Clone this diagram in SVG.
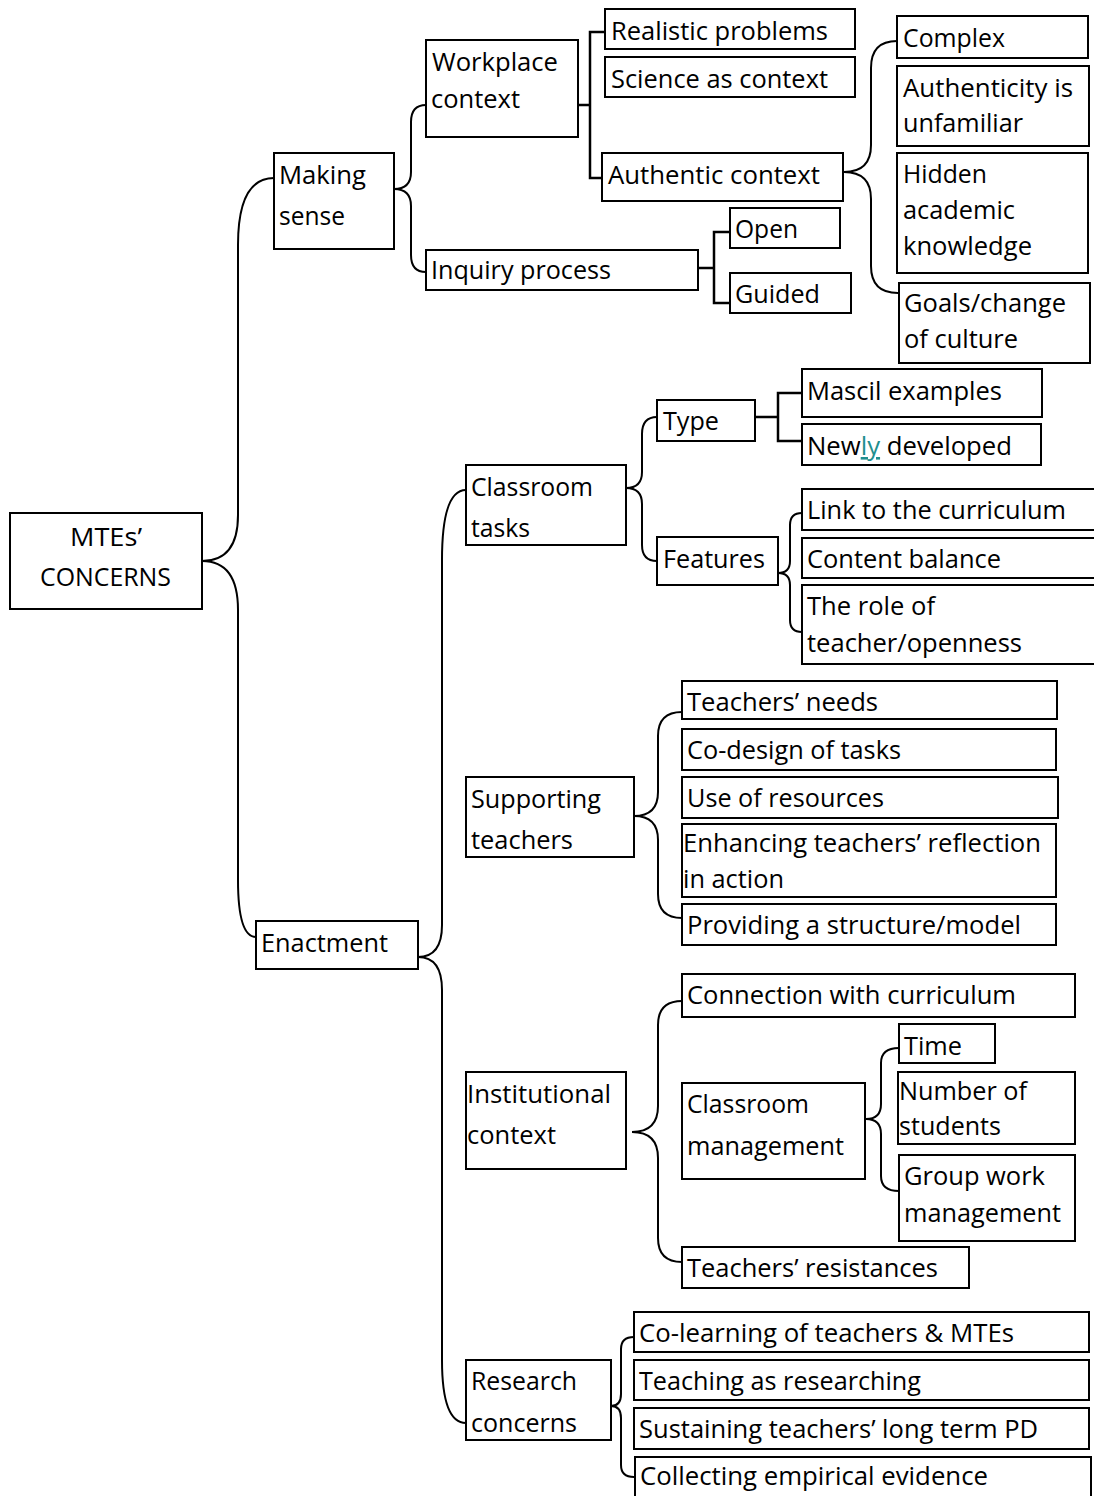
<svg xmlns="http://www.w3.org/2000/svg" width="1094" height="1496" viewBox="0 0 1094 1496">
<style>
  rect { fill: #fff; stroke: #000; stroke-width: 2; }
  text { font-family: "Open Sans", "Noto Sans", "Liberation Sans", sans-serif; font-size: 26px; fill: #000; }
  .c { fill: none; stroke: #000; stroke-width: 2; }
  .sq { fill: none; stroke: #000; stroke-width: 2.5; }
  .lnk { fill: #1f8f8f; text-decoration: underline; }
</style>
<rect x="0" y="0" width="1094" height="1496" style="fill:#fff;stroke:none"/>
<g id="connectors">
  <path class="c" d="M202,561 Q238,561 238,515 L238,245 Q238,178 274,178"/>
  <path class="c" d="M202,561 Q238,561 238,610 L238,880 Q238,937 256,937"/>
  <path class="c" d="M394,189 Q411,189 411,172 L411,122 Q411,105 426,105"/>
  <path class="c" d="M394,189 Q411,189 411,206 L411,255 Q411,272 426,272"/>
  <path class="sq" d="M578,105 H590 M605,32 H590 V178 H602"/>
  <path class="c" d="M844,172 Q871,172 871,145 L871,68 Q871,41 897,41"/>
  <path class="c" d="M844,172 Q871,172 871,199 L871,266 Q871,293 898,293"/>
  <path class="sq" d="M698,268 H714 M730,232 H714 V303 H730"/>
  <path class="c" d="M418,957 Q442,957 442,925 L442,560 Q442,490 466,490"/>
  <path class="c" d="M418,957 Q442,957 442,990 L442,1360 Q442,1423 466,1423"/>
  <path class="c" d="M626,488 Q642,488 642,472 L642,434 Q642,417 657,417"/>
  <path class="c" d="M626,488 Q642,488 642,504 L642,545 Q642,561 657,561"/>
  <path class="sq" d="M755,417 H778 M802,393 H778 V441 H802"/>
  <path class="c" d="M778,573 Q790,573 790,561 L790,525 Q790,513 802,513"/>
  <path class="c" d="M778,573 Q790,573 790,585 L790,620 Q790,632 802,632"/>
  <path class="c" d="M634,816 Q658,816 658,792 L658,736 Q658,712 682,712"/>
  <path class="c" d="M634,816 Q658,816 658,840 L658,894 Q658,918 682,918"/>
  <path class="c" d="M632,1132 Q658,1132 658,1106 L658,1025 Q658,1001 682,1001"/>
  <path class="c" d="M632,1132 Q658,1132 658,1158 L658,1238 Q658,1262 682,1262"/>
  <path class="c" d="M866,1119 Q881,1119 881,1104 L881,1063 Q881,1048 899,1048"/>
  <path class="c" d="M866,1119 Q881,1119 881,1134 L881,1176 Q881,1191 899,1191"/>
  <path class="c" d="M611,1406 Q621,1406 621,1394 L621,1349 Q621,1337 634,1337"/>
  <path class="c" d="M611,1406 Q621,1406 621,1418 L621,1465 Q621,1477 634,1477"/>
</g>
<g id="n-root"><rect x="10" y="513" width="192" height="96"/>
  <text x="70" y="546" textLength="72" lengthAdjust="spacingAndGlyphs">MTEs’</text>
  <text x="40" y="586" textLength="131" lengthAdjust="spacingAndGlyphs">CONCERNS</text></g>
<g id="n-making"><rect x="274" y="153" width="120" height="96"/>
  <text x="279" y="184" textLength="87" lengthAdjust="spacingAndGlyphs">Making</text>
  <text x="279" y="225" textLength="66" lengthAdjust="spacingAndGlyphs">sense</text></g>
<g id="n-workplace"><rect x="426" y="40" width="152" height="97"/>
  <text x="432" y="71" textLength="126" lengthAdjust="spacingAndGlyphs">Workplace</text>
  <text x="431" y="108" textLength="89" lengthAdjust="spacingAndGlyphs">context</text></g>
<g id="n-realistic"><rect x="605" y="9" width="250" height="40"/>
  <text x="611" y="40" textLength="217" lengthAdjust="spacingAndGlyphs">Realistic problems</text></g>
<g id="n-science"><rect x="605" y="57" width="250" height="40"/>
  <text x="611" y="88" textLength="217" lengthAdjust="spacingAndGlyphs">Science as context</text></g>
<g id="n-authentic"><rect x="602" y="153" width="241" height="48"/>
  <text x="608" y="184" textLength="212" lengthAdjust="spacingAndGlyphs">Authentic context</text></g>
<g id="n-complex"><rect x="897" y="16" width="191" height="42"/>
  <text x="903" y="47" textLength="102" lengthAdjust="spacingAndGlyphs">Complex</text></g>
<g id="n-authenticity"><rect x="897" y="66" width="192" height="80"/>
  <text x="903" y="97" textLength="170" lengthAdjust="spacingAndGlyphs">Authenticity is</text>
  <text x="903" y="132" textLength="120" lengthAdjust="spacingAndGlyphs">unfamiliar</text></g>
<g id="n-hidden"><rect x="897" y="153" width="191" height="120"/>
  <text x="903" y="183" textLength="84" lengthAdjust="spacingAndGlyphs">Hidden</text>
  <text x="903" y="219" textLength="112" lengthAdjust="spacingAndGlyphs">academic</text>
  <text x="903" y="255" textLength="129" lengthAdjust="spacingAndGlyphs">knowledge</text></g>
<g id="n-goals"><rect x="899" y="283" width="191" height="80"/>
  <text x="904" y="312" textLength="162" lengthAdjust="spacingAndGlyphs">Goals/change</text>
  <text x="904" y="348" textLength="114" lengthAdjust="spacingAndGlyphs">of culture</text></g>
<g id="n-inquiry"><rect x="426" y="250" width="272" height="40"/>
  <text x="431" y="279" textLength="180" lengthAdjust="spacingAndGlyphs">Inquiry process</text></g>
<g id="n-open"><rect x="730" y="208" width="110" height="40"/>
  <text x="735" y="238" textLength="63" lengthAdjust="spacingAndGlyphs">Open</text></g>
<g id="n-guided"><rect x="730" y="273" width="121" height="40"/>
  <text x="735" y="303" textLength="85" lengthAdjust="spacingAndGlyphs">Guided</text></g>
<g id="n-enactment"><rect x="256" y="921" width="162" height="48"/>
  <text x="261" y="952" textLength="127" lengthAdjust="spacingAndGlyphs">Enactment</text></g>
<g id="n-classroomtasks"><rect x="466" y="465" width="160" height="80"/>
  <text x="471" y="496" textLength="122" lengthAdjust="spacingAndGlyphs">Classroom</text>
  <text x="471" y="537" textLength="59" lengthAdjust="spacingAndGlyphs">tasks</text></g>
<g id="n-type"><rect x="657" y="400" width="98" height="41"/>
  <text x="663" y="430" textLength="56" lengthAdjust="spacingAndGlyphs">Type</text></g>
<g id="n-mascil"><rect x="802" y="369" width="240" height="48"/>
  <text x="807" y="400" textLength="195" lengthAdjust="spacingAndGlyphs">Mascil examples</text></g>
<g id="n-newly"><rect x="802" y="424" width="239" height="41"/>
  <text x="807" y="455" textLength="205" lengthAdjust="spacingAndGlyphs">New<tspan class="lnk">ly</tspan> developed</text></g>
<g id="n-features"><rect x="657" y="537" width="121" height="48"/>
  <text x="663" y="568" textLength="102" lengthAdjust="spacingAndGlyphs">Features</text></g>
<g id="n-link"><rect x="802" y="489" width="310" height="41"/>
  <text x="807" y="519" textLength="259" lengthAdjust="spacingAndGlyphs">Link to the curriculum</text></g>
<g id="n-content"><rect x="802" y="538" width="310" height="40"/>
  <text x="807" y="568" textLength="194" lengthAdjust="spacingAndGlyphs">Content balance</text></g>
<g id="n-role"><rect x="802" y="585" width="310" height="79"/>
  <text x="807" y="615" textLength="128" lengthAdjust="spacingAndGlyphs">The role of</text>
  <text x="807" y="652" textLength="215" lengthAdjust="spacingAndGlyphs">teacher/openness</text></g>
<g id="n-supporting"><rect x="466" y="777" width="168" height="80"/>
  <text x="471" y="808" textLength="130" lengthAdjust="spacingAndGlyphs">Supporting</text>
  <text x="471" y="849" textLength="102" lengthAdjust="spacingAndGlyphs">teachers</text></g>
<g id="n-needs"><rect x="682" y="681" width="375" height="38"/>
  <text x="687" y="711" textLength="191" lengthAdjust="spacingAndGlyphs">Teachers’ needs</text></g>
<g id="n-codesign"><rect x="682" y="729" width="374" height="41"/>
  <text x="687" y="759" textLength="214" lengthAdjust="spacingAndGlyphs">Co-design of tasks</text></g>
<g id="n-resources"><rect x="682" y="777" width="376" height="41"/>
  <text x="687" y="807" textLength="197" lengthAdjust="spacingAndGlyphs">Use of resources</text></g>
<g id="n-enhancing"><rect x="682" y="824" width="374" height="73"/>
  <text x="683" y="852" textLength="358" lengthAdjust="spacingAndGlyphs">Enhancing teachers’ reflection</text>
  <text x="683" y="888" textLength="101" lengthAdjust="spacingAndGlyphs">in action</text></g>
<g id="n-providing"><rect x="682" y="904" width="374" height="41"/>
  <text x="687" y="934" textLength="334" lengthAdjust="spacingAndGlyphs">Providing a structure/model</text></g>
<g id="n-institutional"><rect x="466" y="1072" width="160" height="97"/>
  <text x="467" y="1103" textLength="144" lengthAdjust="spacingAndGlyphs">Institutional</text>
  <text x="467" y="1144" textLength="89" lengthAdjust="spacingAndGlyphs">context</text></g>
<g id="n-connection"><rect x="682" y="974" width="393" height="43"/>
  <text x="687" y="1004" textLength="329" lengthAdjust="spacingAndGlyphs">Connection with curriculum</text></g>
<g id="n-classroommgmt"><rect x="682" y="1083" width="183" height="96"/>
  <text x="687" y="1113" textLength="122" lengthAdjust="spacingAndGlyphs">Classroom</text>
  <text x="687" y="1155" textLength="157" lengthAdjust="spacingAndGlyphs">management</text></g>
<g id="n-time"><rect x="899" y="1024" width="96" height="39"/>
  <text x="904" y="1055" textLength="58" lengthAdjust="spacingAndGlyphs">Time</text></g>
<g id="n-number"><rect x="898" y="1072" width="177" height="72"/>
  <text x="899" y="1100" textLength="128" lengthAdjust="spacingAndGlyphs">Number of</text>
  <text x="899" y="1135" textLength="102" lengthAdjust="spacingAndGlyphs">students</text></g>
<g id="n-group"><rect x="899" y="1155" width="176" height="86"/>
  <text x="904" y="1185" textLength="141" lengthAdjust="spacingAndGlyphs">Group work</text>
  <text x="904" y="1222" textLength="157" lengthAdjust="spacingAndGlyphs">management</text></g>
<g id="n-resistances"><rect x="682" y="1247" width="287" height="41"/>
  <text x="687" y="1277" textLength="251" lengthAdjust="spacingAndGlyphs">Teachers’ resistances</text></g>
<g id="n-research"><rect x="466" y="1360" width="145" height="80"/>
  <text x="471" y="1390" textLength="106" lengthAdjust="spacingAndGlyphs">Research</text>
  <text x="471" y="1432" textLength="106" lengthAdjust="spacingAndGlyphs">concerns</text></g>
<g id="n-colearning"><rect x="634" y="1312" width="455" height="40"/>
  <text x="639" y="1342" textLength="375" lengthAdjust="spacingAndGlyphs">Co-learning of teachers &amp; MTEs</text></g>
<g id="n-teaching"><rect x="634" y="1360" width="455" height="40"/>
  <text x="639" y="1390" textLength="282" lengthAdjust="spacingAndGlyphs">Teaching as researching</text></g>
<g id="n-sustaining"><rect x="634" y="1408" width="455" height="41"/>
  <text x="639" y="1438" textLength="399" lengthAdjust="spacingAndGlyphs">Sustaining teachers’ long term PD</text></g>
<g id="n-collecting"><rect x="635" y="1457" width="456" height="50"/>
  <text x="640" y="1485" textLength="348" lengthAdjust="spacingAndGlyphs">Collecting empirical evidence</text></g>
</svg>
